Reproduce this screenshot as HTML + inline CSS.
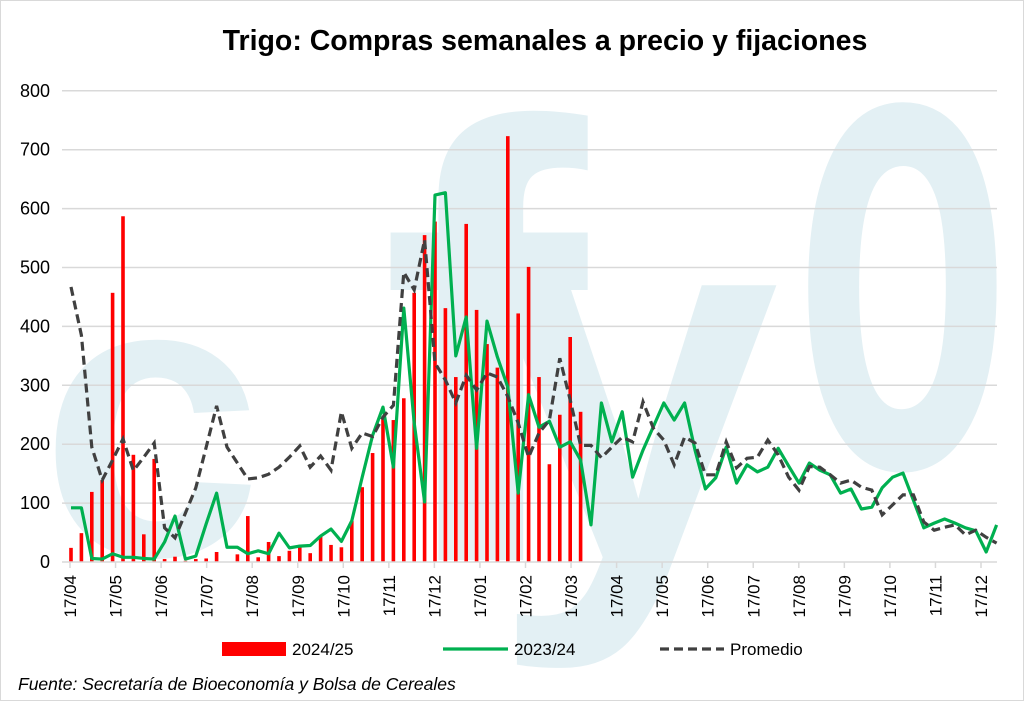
<!DOCTYPE html>
<html><head><meta charset="utf-8"><style>
html,body{margin:0;padding:0;background:#fff;}
svg{display:block;font-family:"Liberation Sans",sans-serif;}
</style></head><body>
<svg id="c" width="1024" height="701" viewBox="0 0 1024 701" xmlns="http://www.w3.org/2000/svg">
<rect x="0.5" y="0.5" width="1023" height="700" fill="#fff" stroke="#d9d9d9"/>
<g fill="#e3f0f4" font-weight="bold" font-family="Liberation Sans,sans-serif">
<text x="40" y="555" font-size="400">c</text>
<text x="380" y="560" font-size="620">f</text>
<text x="490" y="560" font-size="520">y</text>
<text x="-20" y="0" font-size="520" transform="translate(808,466) scale(0.68,1.3)">o</text>
</g>
<g id="grid" stroke="#d9d9d9" stroke-width="1.5"></g>
<g id="ylab" font-size="18" fill="#000" text-anchor="end"></g>
<g id="bars" fill="#ff0000"></g>
<polyline id="green" fill="none" stroke="#00b050" stroke-width="3.2" stroke-linejoin="round"/>
<polyline id="dash" fill="none" stroke="#404040" stroke-width="3.2" stroke-dasharray="9,5"/>
<line x1="62" y1="562" x2="997" y2="562" stroke="#d9d9d9" stroke-width="1.5"/>
<g id="xt" stroke="#d9d9d9" stroke-width="1.5"></g>
<g id="xlab" font-size="17" fill="#000"></g>
<text x="545" y="50" font-size="28.5" font-weight="bold" text-anchor="middle">Trigo: Compras semanales a precio y fijaciones</text>
<rect x="222" y="642" width="64" height="14" fill="#ff0000"/>
<text x="292" y="655" font-size="17">2024/25</text>
<line x1="443" y1="649" x2="508" y2="649" stroke="#00b050" stroke-width="3.2"/>
<text x="514" y="655" font-size="17">2023/24</text>
<line x1="660" y1="649" x2="724" y2="649" stroke="#404040" stroke-width="3.2" stroke-dasharray="9,5"/>
<text x="730" y="655" font-size="17">Promedio</text>
<text x="18" y="690" font-size="17.5" font-style="italic">Fuente: Secretaría de Bioeconomía y Bolsa de Cereales</text>
</svg>
<script>
var NS="http://www.w3.org/2000/svg";
function el(p,t,a,txt){var e=document.createElementNS(NS,t);for(var k in a)e.setAttribute(k,a[k]);if(txt!==undefined)e.textContent=txt;document.getElementById(p).appendChild(e);return e;}
function Y(v){return 562-v*0.589;}
for(var v=100;v<=800;v+=100){el("grid","line",{x1:62,x2:997,y1:Y(v),y2:Y(v)});}
for(var v=0;v<=800;v+=100){el("ylab","text",{x:50,y:Y(v)+6},String(v));}
var bars=[24,49,119,139,457,587,182,47,175,5,9,2,5,6,17,0,13,78,8,34,10,19,29,15,43,29,25,70,127,185,245,241,278,457,555,578,431,314,574,428,370,330,723,422,501,314,166,250,382,255];
function X(i){return 71+i*10.4;}
bars.forEach(function(b,i){if(b>0)el("bars","rect",{x:X(i)-1.8,y:Y(b),width:3.6,height:b*0.589});});
var g=[92,92,6,5,14,8,8,6,5,34,78,5,10,65,117,25,25,14,19,14,49,24,27,28,44,56,35,70,144,215,263,161,431,236,102,623,627,350,416,193,409,348,297,117,284,229,239,195,204,173,63,270,204,255,144,190,230,270,241,270,190,124,143,195,134,165,153,161,193,163,134,168,156,148,117,124,90,93,126,144,151,105,58,66,73,66,58,53,17,63];
var d=[467,385,195,139,173,209,155,178,202,58,41,83,126,195,265,195,168,141,143,149,161,178,197,161,180,156,255,193,219,213,246,266,492,462,547,338,309,270,317,292,321,314,281,236,178,219,241,346,275,198,198,177,195,212,204,272,227,207,165,212,202,148,148,204,160,176,178,207,182,144,122,162,161,148,134,139,127,122,80,97,114,114,68,54,59,63,46,54,42,32];
document.getElementById("green").setAttribute("points",g.map(function(v,i){return X(i)+","+Y(v);}).join(" "));
document.getElementById("dash").setAttribute("points",d.map(function(v,i){return X(i)+","+Y(v);}).join(" "));
var m=["04","05","06","07","08","09","10","11","12","01","02","03","04","05","06","07","08","09","10","11","12"];
m.forEach(function(mm,k){var x=70+k*45.55;el("xt","line",{x1:x,x2:x,y1:562,y2:568});
el("xlab","text",{x:0,y:0,"text-anchor":"end",transform:"translate("+(x+6)+",575) rotate(-90)"},"17/"+mm);});
</script>
</body></html>
